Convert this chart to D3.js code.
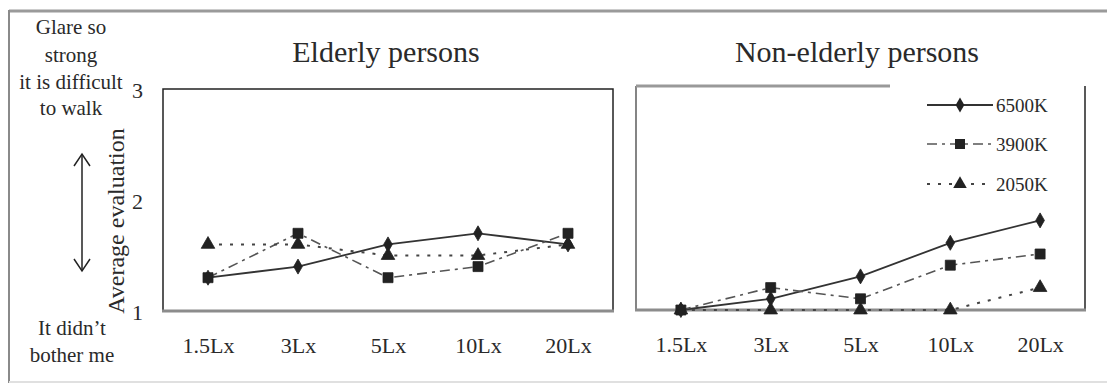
<!DOCTYPE html>
<html><head><meta charset="utf-8">
<script src="https://cdn.jsdelivr.net/npm/d3@7/dist/d3.min.js"></script>
<style>html,body{margin:0;padding:0;background:#fff;}svg text{font-family:"Liberation Serif","DejaVu Serif",serif;fill:#2a2a2a;}</style>
</head><body><svg id="c" width="1107" height="388"></svg>
<script>
const categories = ["1.5Lx","3Lx","5Lx","10Lx","20Lx"];
const seriesNames = ["6500K","3900K","2050K"];
const elderly6500 = [1.3,1.4,1.6,1.7,1.6];
const elderly3900 = [1.3,1.7,1.3,1.4,1.7];
const elderly2050 = [1.6,1.6,1.5,1.5,1.6];
const nonElderly6500 = [1.0,1.1,1.3,1.6,1.8];
const nonElderly3900 = [1.0,1.2,1.1,1.4,1.5];
const nonElderly2050 = [1.0,1.0,1.0,1.0,1.2];
const yTicks = [1,2,3];
const panelTitles = ["Elderly persons","Non-elderly persons"];

const svg = d3.select("#c");
const styles = {
  "6500K": {dash:null, color:"#333", shape:d3.symbolDiamond, size:65, w:1.8},
  "3900K": {dash:"10,5,3,5", color:"#555", shape:d3.symbolSquare, size:100, w:1.6},
  "2050K": {dash:"3,8", color:"#444", shape:d3.symbolTriangle, size:80, w:2}
};

// outer frame
svg.append("line").attr("x1",9).attr("x2",1107).attr("y1",11).attr("y2",11).attr("stroke","#9a9a9a").attr("stroke-width",3);
svg.append("line").attr("x1",9).attr("x2",9).attr("y1",10).attr("y2",383).attr("stroke","#8a8a8a").attr("stroke-width",2);
svg.append("line").attr("x1",9).attr("x2",1107).attr("y1",382).attr("y2",382).attr("stroke","#e0e0e0").attr("stroke-width",2);

const panels = [
  {x0:163, x1:613, yTop:89, yBot:311, title:panelTitles[0], tcx:386, data:[elderly6500,elderly3900,elderly2050], left:true},
  {x0:636, x1:1085, yTop:86, yBot:310, title:panelTitles[1], tcx:857, data:[nonElderly6500,nonElderly3900,nonElderly2050], left:false}
];

panels.forEach(p => {
  const x = d3.scalePoint().domain(categories).range([p.x0,p.x1]).padding(0.5);
  const y = d3.scaleLinear().domain([1,3]).range([p.yBot,p.yTop]);
  const g = svg.append("g");
  if (p.left) {
    g.append("rect").attr("x",p.x0).attr("y",p.yTop).attr("width",p.x1-p.x0).attr("height",p.yBot-p.yTop)
      .attr("fill","none").attr("stroke","#222").attr("stroke-width",1.5);
  } else {
    g.append("line").attr("x1",p.x0).attr("x2",p.x0).attr("y1",p.yTop).attr("y2",p.yBot).attr("stroke","#333").attr("stroke-width",1.2);
    g.append("line").attr("x1",p.x1).attr("x2",p.x1).attr("y1",p.yTop).attr("y2",p.yBot).attr("stroke","#222").attr("stroke-width",1.5);
    g.append("line").attr("x1",p.x0).attr("x2",890).attr("y1",p.yTop).attr("y2",p.yTop).attr("stroke","#999").attr("stroke-width",3);
  }
  g.append("line").attr("x1",p.x0-1).attr("x2",p.x1+1).attr("y1",p.yBot).attr("y2",p.yBot).attr("stroke","#8c8c8c").attr("stroke-width",3);

  const xa = g.append("g").attr("transform",`translate(0,${p.yBot})`).call(d3.axisBottom(x).tickSize(0).tickPadding(26));
  xa.select(".domain").remove();
  xa.selectAll("text").attr("font-size",22).attr("fill","#2a2a2a").style("font-family","Liberation Serif, serif");

  if (p.left) {
    const ya = g.append("g").attr("transform",`translate(${p.x0},0)`).call(d3.axisLeft(y).tickValues(yTicks).tickFormat(d3.format("d")).tickSize(0).tickPadding(20));
    ya.select(".domain").remove();
    ya.selectAll("text").attr("font-size",22).attr("fill","#2a2a2a").attr("dy","0.4em").style("font-family","Liberation Serif, serif");
  }

  g.append("text").attr("x",p.tcx).attr("y",62).attr("text-anchor","middle").attr("font-size",30).text(p.title);

  seriesNames.forEach((s,i) => {
    const st = styles[s];
    const line = d3.line().x((d,j)=>x(categories[j])).y(d=>y(d));
    g.append("path").datum(p.data[i]).attr("d",line).attr("fill","none").attr("stroke",st.color)
      .attr("stroke-width",st.w).attr("stroke-dasharray",st.dash);
  });
  seriesNames.slice().reverse().forEach((s) => {
    const i = seriesNames.indexOf(s);
    const st = styles[s];
    g.selectAll(null).data(p.data[i]).enter().append("path")
      .attr("d", d3.symbol().type(st.shape).size(st.size))
      .attr("transform",(d,j)=>`translate(${x(categories[j])},${y(d)})`)
      .attr("fill","#222").attr("stroke","#222").attr("stroke-width",0.8);
  });
});

// legend
const legY = [105,144,184];
seriesNames.forEach((s,i) => {
  const st = styles[s];
  svg.append("line").attr("x1",927).attr("x2",993).attr("y1",legY[i]).attr("y2",legY[i])
    .attr("stroke",st.color).attr("stroke-width",st.w).attr("stroke-dasharray",st.dash);
  svg.append("path").attr("d",d3.symbol().type(st.shape).size(st.size))
    .attr("transform",`translate(960,${legY[i]})`).attr("fill","#222");
  svg.append("text").attr("x",996).attr("y",legY[i]).attr("dy","0.35em").attr("font-size",19).attr("fill","#444").text(s);
});

// y label
svg.append("text").attr("transform","translate(116,221) rotate(-90)").attr("text-anchor","middle")
  .attr("dy","0.35em").attr("font-size",24).text("Average evaluation");

// left annotations
const topLines = ["Glare so","strong","it is difficult","to walk"];
const topY = [27,55,82,108];
topLines.forEach((t,i)=>{
  svg.append("text").attr("x",71).attr("y",topY[i]).attr("dy","0.35em").attr("text-anchor","middle").attr("font-size",21).text(t);
});
const botLines = ["It didn\u2019t","bother me"];
const botY = [328,355];
botLines.forEach((t,i)=>{
  svg.append("text").attr("x",72).attr("y",botY[i]).attr("dy","0.35em").attr("text-anchor","middle").attr("font-size",21).text(t);
});

// double arrow
const ax = 82, ay1 = 154, ay2 = 271;
svg.append("line").attr("x1",ax).attr("x2",ax).attr("y1",ay1).attr("y2",ay2).attr("stroke","#222").attr("stroke-width",1.5);
svg.append("path").attr("d",`M${ax-8},${ay1+12}L${ax},${ay1}L${ax+8},${ay1+12}`).attr("fill","none").attr("stroke","#222").attr("stroke-width",1.5);
svg.append("path").attr("d",`M${ax-8},${ay2-12}L${ax},${ay2}L${ax+8},${ay2-12}`).attr("fill","none").attr("stroke","#222").attr("stroke-width",1.5);
</script></body></html>
